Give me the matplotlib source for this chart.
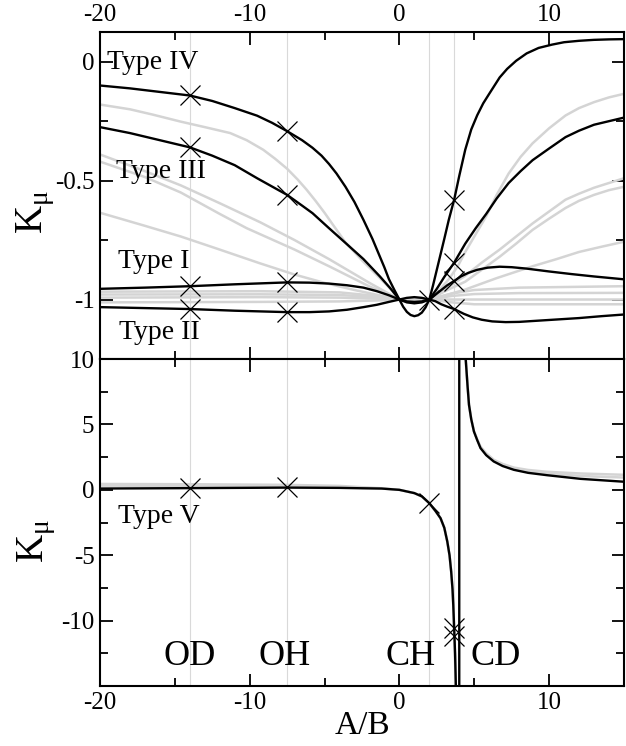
import matplotlib
matplotlib.use("Agg")
import matplotlib.pyplot as plt
from matplotlib.ticker import MultipleLocator

plt.rcParams['font.family'] = ['Liberation Serif', 'DejaVu Serif']
plt.rcParams['mathtext.fontset'] = 'custom'
plt.rcParams['mathtext.rm'] = 'Liberation Serif'
plt.rcParams['axes.unicode_minus'] = False

# positions of the marked systems (A/B)
x_od, x_oh, x_ch, x_cd = -14.0, -7.5, 2.0, 3.66
site_labels = ['OD', 'OH', 'CH', 'CD']
site_label_x = [-14.0, -7.7, 0.75, 6.45]

# ---- top panel, black curves ----
x_t4 = [-20, -18, -16, -14, -12.5, -11, -9.5, -8.5, -7.5, -6.5, -5.8, -5.2, -4.7, -4.2, -3.6,
        -3.0, -2.4, -1.8, -1.3, -1.0, -0.7, -0.35, 0, 0.25, 0.5, 0.75, 1.0, 1.25, 1.5, 1.75,
        2.0, 2.25, 2.5, 2.75, 3.0, 3.3, 3.66, 4.0, 4.4, 4.8, 5.2, 5.6, 6.0, 6.7, 7.2, 7.8,
        8.5, 9.3, 10.2, 11, 12, 13, 14, 15]
y_t4 = [-0.100, -0.112, -0.127, -0.142, -0.165, -0.195, -0.227, -0.257, -0.292, -0.33, -0.362,
        -0.395, -0.43, -0.47, -0.526, -0.59, -0.665, -0.745, -0.82, -0.865, -0.914, -0.958,
        -1.0, -1.03, -1.052, -1.065, -1.07, -1.066, -1.055, -1.033, -1.0, -0.94, -0.875,
        -0.81, -0.745, -0.665, -0.58, -0.48, -0.37, -0.285, -0.225, -0.175, -0.135, -0.066,
        -0.03, 0.004, 0.035, 0.058, 0.072, 0.082, 0.088, 0.092, 0.094, 0.095]

x_t3 = [-20, -18, -16, -14, -12.5, -11, -9.5, -8.5, -7.5, -6.5, -5.8, -4.7, -3.6, -2.4, -1.3,
        -0.6, 0, 0.5, 1.0, 1.5, 2.0, 2.5, 3.0, 3.66, 4.4, 5.1, 5.8, 6.5, 7.3, 8.1, 8.9, 10,
        11.1, 12, 13, 14, 15]
y_t3 = [-0.275, -0.3, -0.33, -0.36, -0.395, -0.435, -0.49, -0.525, -0.56, -0.605, -0.637, -0.7,
        -0.762, -0.83, -0.903, -0.953, -1.0, -1.012, -1.016, -1.012, -1.0, -0.955, -0.905,
        -0.845, -0.765, -0.7, -0.64, -0.575, -0.51, -0.46, -0.414, -0.365, -0.317, -0.29,
        -0.265, -0.25, -0.235]

x_t1 = [-20, -17, -14, -11, -7.5, -6, -4.7, -3.5, -2.4, -1.5, -0.7, 0, 0.5, 1.0, 1.5, 2.0,
        2.4, 2.8, 3.2, 3.66, 4.1, 4.6, 5.2, 5.9, 6.7, 7.5, 8.5, 10, 11.5, 13, 15]
y_t1 = [-0.955, -0.95, -0.944, -0.936, -0.928, -0.929, -0.933, -0.94, -0.95, -0.965, -0.982,
        -1.0, -0.993, -0.99, -0.993, -1.0, -0.98, -0.96, -0.94, -0.922, -0.903, -0.888,
        -0.875, -0.866, -0.862, -0.864, -0.87, -0.882, -0.893, -0.903, -0.915]

x_t2 = [-20, -17, -14, -11, -7.5, -6, -4.7, -3.5, -2.4, -1.5, -0.7, 0, 0.5, 1.0, 1.5, 2.0,
        2.4, 2.8, 3.2, 3.66, 4.3, 4.9, 5.5, 6.2, 7.1, 8, 9, 10.5, 12, 13.5, 15]
y_t2 = [-1.032, -1.036, -1.04, -1.047, -1.053, -1.053, -1.05, -1.043, -1.032, -1.022, -1.01,
        -1.0, -1.008, -1.01, -1.008, -1.0, -1.007, -1.02, -1.03, -1.04, -1.06, -1.075, -1.085,
        -1.092, -1.095, -1.094, -1.09, -1.084, -1.078, -1.07, -1.063]

# ---- top panel, gray curves ----
x_ga = [-20, -18, -16.5, -14.6, -13, -11.3, -10.2, -9.1, -8.3, -7.5, -6.8, -6.2, -5.6, -5.0,
        -4.5, -3.6, -2.5, -1.3, -0.6, 0, 1, 2, 2.6, 3.3, 3.9, 4.4, 5.1, 5.8, 6.5, 7.3, 8.1,
        8.9, 10, 11.1, 12, 13, 14, 15]
y_ga = [-0.18, -0.2, -0.222, -0.252, -0.275, -0.30, -0.33, -0.37, -0.408, -0.45, -0.495,
        -0.538, -0.585, -0.635, -0.68, -0.76, -0.835, -0.91, -0.955, -1.0, -1.008, -1.0,
        -0.965, -0.915, -0.86, -0.8, -0.725, -0.65, -0.56, -0.47, -0.4, -0.343, -0.28,
        -0.226, -0.195, -0.17, -0.15, -0.135]

x_gb = [-20, -17, -14.6, -12, -9.3, -7, -4.7, -2, -1, 0, 1, 2, 3.2, 4.4, 5.5, 6.7, 7.8, 8.9,
        10, 11.1, 12, 13, 14, 15]
y_gb = [-0.39, -0.46, -0.52, -0.595, -0.675, -0.75, -0.83, -0.93, -0.965, -1.0, -1.006, -1.0,
        -0.95, -0.9, -0.845, -0.79, -0.735, -0.68, -0.63, -0.58, -0.555, -0.53, -0.51, -0.49]

x_gc = [-20, -17, -14.6, -12, -10.2, -7, -4.7, -2, -1, 0, 1, 2, 3.2, 4.4, 5.5, 6.7, 7.8, 8.9,
        10, 11.1, 12, 13, 14, 15]
y_gc = [-0.42, -0.485, -0.55, -0.64, -0.70, -0.79, -0.86, -0.945, -0.972, -1.0, -1.006, -1.0,
        -0.96, -0.925, -0.875, -0.82, -0.765, -0.707, -0.66, -0.615, -0.585, -0.56, -0.54,
        -0.526]

x_gd = [-20, -17, -14.6, -12, -9.3, -7, -5, -3, -1.5, 0, 1, 2, 3.2, 4.4, 6.5, 8.9, 10.5, 12,
        13.5, 15]
y_gd = [-0.635, -0.69, -0.735, -0.79, -0.848, -0.895, -0.93, -0.96, -0.98, -1.0, -1.004, -1.0,
        -0.98, -0.958, -0.91, -0.86, -0.83, -0.8, -0.778, -0.757]

x_gflat = [-20, -9.3, -4, -1.5, 0, 1, 2, 3.5, 5, 8, 15]
y_ge = [-0.967, -0.965, -0.97, -0.985, -1.0, -1.0, -1.0, -0.975, -0.96, -0.95, -0.944]
y_gf = [-0.979, -0.978, -0.981, -0.99, -1.0, -1.002, -1.0, -0.985, -0.977, -0.973, -0.972]
y_gg = [-0.992, -0.99, -0.992, -0.996, -1.0, -1.004, -1.0, -1.0, -1.0, -1.0, -1.0]
y_gh = [-1.012, -1.01, -1.008, -1.004, -1.0, -1.006, -1.0, -1.012, -1.02, -1.02, -1.02]

# crosses, top panel
cross_top_x = [x_od, x_od, x_od, x_od, x_oh, x_oh, x_oh, x_oh, x_ch,
               x_cd, x_cd, x_cd, x_cd]
cross_top_y = [-0.142, -0.36, -0.944, -1.04, -0.292, -0.56, -0.928, -1.053, -1.0,
               -0.58, -0.845, -0.922, -1.04]

# ---- bottom panel (Type V) ----
x_t5 = [-20, -14, -7.5, -4, -2.5, -1.2, 0, 1, 1.5, 2.0, 2.4, 2.75, 3.0, 3.2, 3.35, 3.46,
        3.55, 3.6, 3.66, 3.72, 3.77, 3.8, 4.0, 4.0, 4.3, 4.36, 4.43, 4.55, 4.65, 4.8, 4.98,
        5.2, 5.42, 5.8, 6.3, 6.9, 7.65, 8.6, 9.86, 12.1, 15]
y_t5 = [0.1, 0.13, 0.17, 0.15, 0.12, 0.1, 0.0, -0.25, -0.5, -1.02, -1.6, -2.17, -2.9, -3.95,
        -5.0, -6.25, -7.6, -8.8, -10.6, -12.5, -14.9, -16, -16, 16, 16, 12, 10.0, 8.0, 6.5,
        5.4, 4.46, 3.8, 3.19, 2.65, 2.17, 1.82, 1.53, 1.3, 1.12, 0.84, 0.62]

x_g5 = [-20, -14, -7.5, -4, -2.5, -1.2, 0, 1, 1.5, 2.0, 2.4, 2.75, 3.0, 3.2, 3.35, 3.46,
        3.55, 3.6, 3.66, 3.72, 3.77, 3.8]
y_g5a = [0.45, 0.43, 0.38, 0.3, 0.2, 0.12, 0.0, -0.25, -0.5, -1.02, -1.6, -2.17, -2.9, -3.95,
         -5.0, -6.25, -7.6, -8.8, -11.2, -13.0, -15.2, -16]
y_g5b = [0.32, 0.3, 0.28, 0.22, 0.15, 0.1, 0.0, -0.25, -0.5, -1.02, -1.6, -2.17, -2.9, -3.95,
         -5.0, -6.25, -7.6, -8.8, -10.9, -12.7, -15.0, -16]
x_g5r = [4.36, 4.43, 4.55, 4.65, 4.8, 4.98, 5.2, 5.42, 5.8, 6.3, 6.9, 7.65, 8.6, 9.86, 12.1, 15]
y_g5ra = [12, 10.0, 8.0, 6.5, 5.4, 4.5, 3.85, 3.3, 2.8, 2.3, 1.98, 1.7, 1.52, 1.38, 1.25, 1.15]
y_g5rb = [12, 10.0, 8.0, 6.5, 5.4, 4.48, 3.82, 3.25, 2.72, 2.25, 1.9, 1.62, 1.42, 1.25, 1.06, 0.94]

cross_bot_x = [x_od, x_oh, x_ch, x_cd, x_cd]
cross_bot_y = [0.13, 0.19, -1.02, -10.6, -11.2]

BLACK = 'black'
GRAY = '#d4d4d4'
VGRAY = '#d9d9d9'

fig = plt.figure(figsize=(6.26, 7.46), dpi=100)
ax1 = fig.add_axes([0.1597, 0.5188, 0.837, 0.4383])
ax2 = fig.add_axes([0.1597, 0.0804, 0.837, 0.4383])

for ax in (ax1, ax2):
    for xv in (x_od, x_oh, x_ch, x_cd):
        ax.axvline(xv, color=VGRAY, lw=0.8, zorder=1)

# top panel
for xs, ys in [(x_ga, y_ga), (x_gb, y_gb), (x_gc, y_gc), (x_gd, y_gd),
               (x_gflat, y_ge), (x_gflat, y_gf), (x_gflat, y_gg), (x_gflat, y_gh)]:
    ax1.plot(xs, ys, color=GRAY, lw=1.8, zorder=2)
for xs, ys in [(x_t4, y_t4), (x_t3, y_t3), (x_t1, y_t1), (x_t2, y_t2)]:
    ax1.plot(xs, ys, color=BLACK, lw=1.7, zorder=3)
ax1.plot(cross_top_x, cross_top_y, ls='none', marker='x', ms=14, mew=0.9,
         color=BLACK, zorder=4)

ax1.text(-19.5, -0.03, 'Type IV', fontsize=20)
ax1.text(-18.9, -0.49, 'Type III', fontsize=20)
ax1.text(-18.8, -0.866, 'Type I', fontsize=20)
ax1.text(-18.7, -1.165, 'Type II', fontsize=20)

ax1.set_xlim(-20, 15)
ax1.set_ylim(-1.25, 0.125)
ax1.set_yticks([0, -0.5, -1])
ax1.set_yticklabels(['0', '-0.5', '-1'])
ax1.yaxis.set_minor_locator(MultipleLocator(0.25))

# bottom panel
ax2.plot(x_g5, y_g5a, color=GRAY, lw=1.8, zorder=2)
ax2.plot(x_g5, y_g5b, color=GRAY, lw=1.8, zorder=2)
ax2.plot(x_g5r, y_g5ra, color=GRAY, lw=1.8, zorder=2)
ax2.plot(x_g5r, y_g5rb, color=GRAY, lw=1.8, zorder=2)
ax2.plot(x_t5, y_t5, color=BLACK, lw=1.7, zorder=3)
ax2.plot(cross_bot_x, cross_bot_y, ls='none', marker='x', ms=14, mew=0.9,
         color=BLACK, zorder=4)

ax2.text(-18.8, -2.5, 'Type V', fontsize=20)
for lab, lx in zip(site_labels, site_label_x):
    ax2.text(lx, -13.4, lab, fontsize=26, ha='center', va='baseline')

ax2.set_xlim(-20, 15)
ax2.set_ylim(-15, 10)
ax2.set_yticks([10, 5, 0, -5, -10])
ax2.yaxis.set_minor_locator(MultipleLocator(2.5))
ax2.set_xlabel('A/B', fontsize=24, labelpad=-2)

for ax in (ax1, ax2):
    ax.xaxis.set_major_locator(MultipleLocator(10))
    ax.xaxis.set_minor_locator(MultipleLocator(5))
    ax.tick_params(which='both', direction='in', top=True, right=True, width=1.3,
                   labelsize=18, pad=4)
    ax.tick_params(which='major', length=9)
    ax.tick_params(which='minor', length=5.5)
    for s in ax.spines.values():
        s.set_linewidth(1.5)

ax1.tick_params(axis='x', labeltop=True, labelbottom=False)
ax2.tick_params(axis='x', labeltop=False, labelbottom=True)

fig.text(0.056, 0.716, r'K$_\mathregular{μ}$', fontsize=28, rotation=90,
         ha='center', va='center')
fig.text(0.057, 0.275, r'K$_\mathregular{μ}$', fontsize=28, rotation=90,
         ha='center', va='center')

fig.savefig('out.png', dpi=100)
